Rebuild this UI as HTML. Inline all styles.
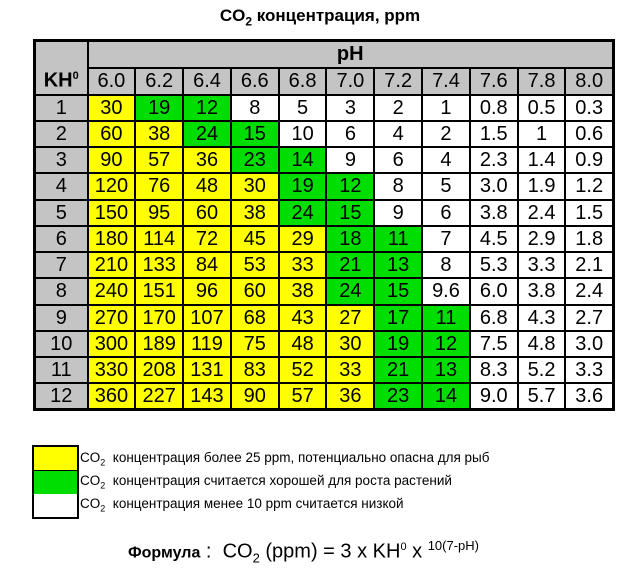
<!DOCTYPE html>
<html><head><meta charset="utf-8"><style>
body{margin:0;width:640px;height:571px;background:#fff;font-family:"Liberation Sans",Arial,sans-serif;position:relative;overflow:hidden}
.title{position:absolute;top:6px;left:0;width:640px;text-align:center;font-weight:bold;font-size:17px}
table{position:absolute;left:33px;top:39px;border-collapse:collapse;border:3px solid #000;table-layout:fixed;width:579px}
td{border:2px solid #000;padding:0;text-align:center;font-size:20px;height:24px;line-height:22px;box-sizing:border-box}
td.g{background:#c4c4c4}
.Y{background:#ffff00}.G{background:#00dd00}.W{background:#fff}
.leg{position:absolute;left:32px;top:445px;width:43px;border:2px solid #000}
.leg div{height:23px}
.lt{position:absolute;left:80px;font-size:13.5px}
.f{position:absolute;top:538px;left:128px;font-size:20px}
</style></head><body>
<div class="title">CO<sub style="font-size:12px">2</sub> концентрация, ppm</div>
<table id="t">
<colgroup><col style="width:53px"><col span="11" style="width:47.8px"></colgroup>
<tr style="height:27px"><td class="g" rowspan="2" style="font-weight:bold;vertical-align:bottom;padding-bottom:2px">KH<sup style="font-size:11px">0</sup></td><td class="g" colspan="11" style="font-weight:bold;height:27px">pH</td></tr>
<tr id="ph" style="height:27px"></tr>
</table>
<div class="leg"><div class="Y" style="border-bottom:1px solid #000"></div><div class="G"></div><div class="W"></div></div>
<div class="lt" style="top:450px">CO<sub style="font-size:9px">2</sub>&nbsp; концентрация более 25 ppm, потенциально опасна для рыб</div>
<div class="lt" style="top:473px">CO<sub style="font-size:9px">2</sub>&nbsp; концентрация считается хорошей для роста растений</div>
<div class="lt" style="top:496px">CO<sub style="font-size:9px">2</sub>&nbsp; концентрация менее 10 ppm считается низкой</div>
<div class="f"><b style="font-size:16px">Формула</b> :&nbsp; CO<sub style="font-size:13px">2</sub> (ppm) = 3 x KH<sup style="font-size:11px">0</sup> x <sup style="font-size:13px">10(7-pH)</sup></div>
<script>
var ph=["6.0","6.2","6.4","6.6","6.8","7.0","7.2","7.4","7.6","7.8","8.0"];
var r=document.getElementById("ph");
ph.forEach(function(p){var td=document.createElement("td");td.className="g";td.style.height="27px";td.textContent=p;r.appendChild(td);});
var d=[[30,19,12,8,5,3,2,1,"0.8","0.5","0.3"],[60,38,24,15,10,6,4,2,"1.5","1","0.6"],[90,57,36,23,14,9,6,4,"2.3","1.4","0.9"],[120,76,48,30,19,12,8,5,"3.0","1.9","1.2"],[150,95,60,38,24,15,9,6,"3.8","2.4","1.5"],[180,114,72,45,29,18,11,7,"4.5","2.9","1.8"],[210,133,84,53,33,21,13,8,"5.3","3.3","2.1"],[240,151,96,60,38,24,15,"9.6","6.0","3.8","2.4"],[270,170,107,68,43,27,17,11,"6.8","4.3","2.7"],[300,189,119,75,48,30,19,12,"7.5","4.8","3.0"],[330,208,131,83,52,33,21,13,"8.3","5.2","3.3"],[360,227,143,90,57,36,23,14,"9.0","5.7","3.6"]];
var t=document.getElementById("t");
d.forEach(function(row,i){var tr=document.createElement("tr");tr.style.height="26.25px";var k=document.createElement("td");k.className="g";k.style.height="26.25px";k.textContent=i+1;tr.appendChild(k);
row.forEach(function(v){var td=document.createElement("td");var n=parseFloat(v);td.className=n>=25?"Y":n>=11?"G":"W";td.style.height="26.25px";td.textContent=v;tr.appendChild(td);});t.appendChild(tr);});
</script>
</body></html>
